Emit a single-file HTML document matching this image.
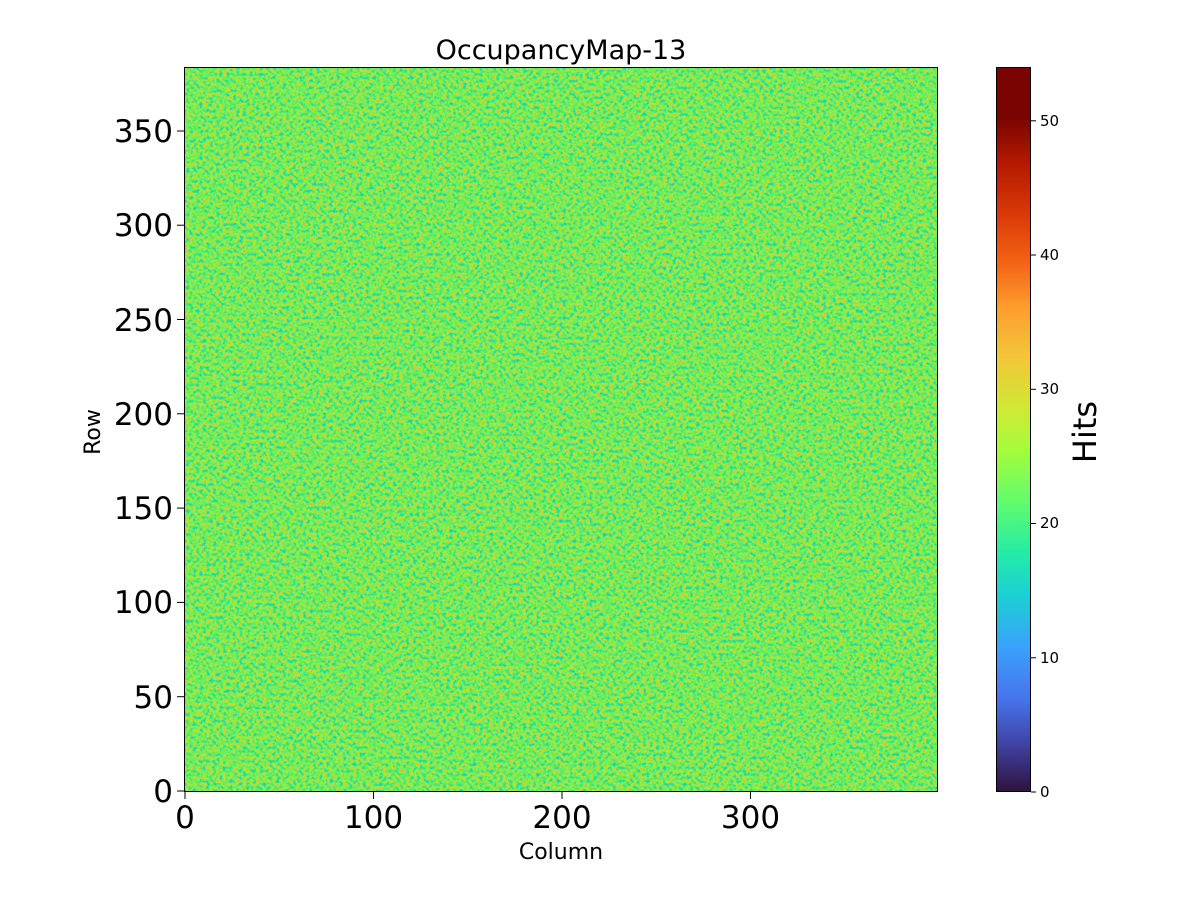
<!DOCTYPE html>
<html><head><meta charset="utf-8"><style>
body{margin:0;background:#fff;}
svg{display:block;font-family:"DejaVu Sans","Liberation Sans",sans-serif;}
</style></head><body>
<svg width="1200" height="900" viewBox="0 0 1200 900">
<defs>
<filter id="nz" x="0" y="0" width="100%" height="100%" filterUnits="objectBoundingBox" color-interpolation-filters="sRGB">
<feTurbulence type="fractalNoise" baseFrequency="0.3" numOctaves="2" seed="7" result="t"/>
<feColorMatrix in="t" type="matrix" values="1 0 0 0 0  1 0 0 0 0  1 0 0 0 0  0 0 0 0 1" result="g"/>
<feComponentTransfer in="g">
<feFuncR type="table" tableValues="0.12 0.12 0.1 0.14 0.3 0.45 0.62 0.8 0.95 0.98 0.98"/>
<feFuncG type="table" tableValues="0.78 0.78 0.8 0.86 0.92 0.93 0.92 0.85 0.7 0.6 0.6"/>
<feFuncB type="table" tableValues="0.85 0.85 0.75 0.62 0.45 0.35 0.25 0.2 0.18 0.15 0.15"/>
<feFuncA type="linear" slope="0" intercept="1"/>
</feComponentTransfer>
</filter>
<linearGradient id="tb" x1="0" y1="1" x2="0" y2="0">
<stop offset="0" stop-color="#30123b"/><stop offset="0.07" stop-color="#4145ab"/>
<stop offset="0.13" stop-color="#4675ed"/><stop offset="0.2" stop-color="#39a2fc"/>
<stop offset="0.27" stop-color="#1bcfd4"/><stop offset="0.33" stop-color="#24eca6"/>
<stop offset="0.4" stop-color="#61fc6c"/><stop offset="0.47" stop-color="#a4fc3b"/>
<stop offset="0.53" stop-color="#d1e834"/><stop offset="0.6" stop-color="#f3c63a"/>
<stop offset="0.67" stop-color="#fe9b2d"/><stop offset="0.73" stop-color="#f36315"/>
<stop offset="0.8" stop-color="#d93806"/><stop offset="0.87" stop-color="#b11901"/>
<stop offset="0.93" stop-color="#7a0402"/><stop offset="1" stop-color="#7a0403"/>
</linearGradient>
</defs>
<rect x="184" y="67" width="754" height="725" fill="#70e070"/>
<rect x="184" y="67" width="754" height="725" filter="url(#nz)"/>
<rect x="184.5" y="67.5" width="753" height="724" fill="none" stroke="#000" stroke-width="1"/>
<text x="561" y="59" font-size="27" text-anchor="middle">OccupancyMap-13</text>
<g stroke="#000" stroke-width="1">
<line x1="185" y1="792" x2="185" y2="799"/><line x1="373.5" y1="792" x2="373.5" y2="799"/>
<line x1="562" y1="792" x2="562" y2="799"/><line x1="750.5" y1="792" x2="750.5" y2="799"/>
<line x1="177" y1="791" x2="184" y2="791"/><line x1="177" y1="696.7" x2="184" y2="696.7"/>
<line x1="177" y1="602.4" x2="184" y2="602.4"/><line x1="177" y1="508.1" x2="184" y2="508.1"/>
<line x1="177" y1="413.8" x2="184" y2="413.8"/><line x1="177" y1="319.5" x2="184" y2="319.5"/>
<line x1="177" y1="225.2" x2="184" y2="225.2"/><line x1="177" y1="131" x2="184" y2="131"/>
</g>
<g font-size="31" text-anchor="middle">
<text x="185" y="828">0</text><text x="373.5" y="828">100</text><text x="562" y="828">200</text><text x="750.5" y="828">300</text>
</g>
<g font-size="31" text-anchor="end">
<text x="173" y="802">0</text><text x="173" y="708">50</text><text x="173" y="613">100</text><text x="173" y="519">150</text>
<text x="173" y="425">200</text><text x="173" y="331">250</text><text x="173" y="236">300</text><text x="173" y="142">350</text>
</g>
<text x="561" y="859" font-size="22" text-anchor="middle">Column</text>
<text transform="translate(100,432) rotate(-90)" font-size="22" text-anchor="middle">Row</text>
<rect x="996" y="67" width="35" height="725" fill="url(#tb)"/>
<rect x="996.5" y="67.5" width="34" height="724" fill="none" stroke="#000"/>
<g stroke="#000"><line x1="1031" y1="792" x2="1036" y2="792"/><line x1="1031" y1="657.8" x2="1036" y2="657.8"/>
<line x1="1031" y1="523.5" x2="1036" y2="523.5"/><line x1="1031" y1="389.3" x2="1036" y2="389.3"/>
<line x1="1031" y1="255" x2="1036" y2="255"/><line x1="1031" y1="120.8" x2="1036" y2="120.8"/></g>
<g font-size="15">
<text x="1040" y="797">0</text><text x="1040" y="663">10</text><text x="1040" y="528">20</text>
<text x="1040" y="394">30</text><text x="1040" y="260">40</text><text x="1040" y="126">50</text>
</g>
<text transform="translate(1096,432) rotate(-90)" font-size="32" text-anchor="middle">Hits</text>
</svg>
</body></html>
